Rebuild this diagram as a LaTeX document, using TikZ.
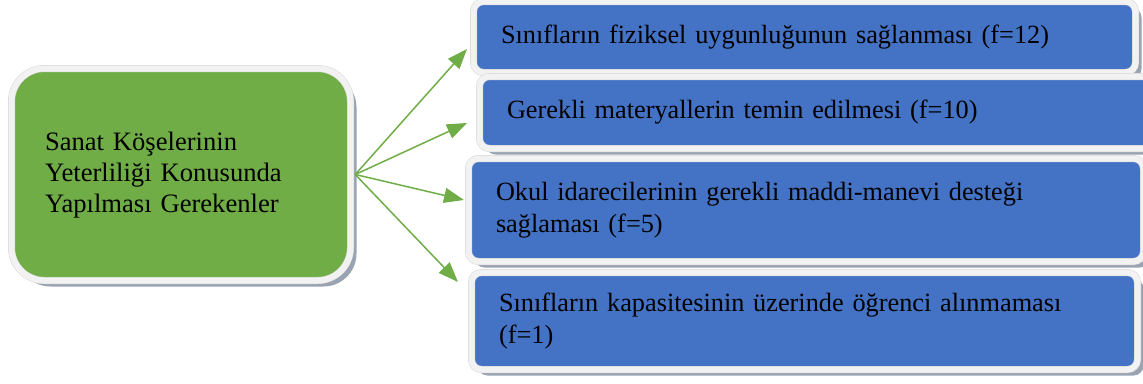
\documentclass[tikz,border=0pt]{standalone}
\usepackage{fontspec}
\setmainfont{Liberation Serif}
\usetikzlibrary{arrows.meta,shadows}
\definecolor{gfill}{HTML}{70AD47}
\definecolor{bfill}{HTML}{4472C4}
\definecolor{rim}{HTML}{F2F2F2}
\definecolor{rimline}{HTML}{D6D6D6}
\definecolor{shade}{HTML}{9AA3B2}
\definecolor{arr}{HTML}{70AD47}
\begin{document}
\begin{tikzpicture}[x=1pt,y=-1pt,
 card/.style={draw=rimline, double=rim, double distance=6pt, line width=0.5pt,
   inner xsep=27.5pt, inner ysep=0pt, align=left,
   font=\fontsize{26.3}{32}\selectfont, text=black,
   drop shadow={shadow xshift=6pt, shadow yshift=-6pt, fill=shade, opacity=1}},
 bluecard/.style={card, fill=bfill, rounded corners=10pt},
 greencard/.style={card, fill=gfill, rounded corners=33pt, inner xsep=33.5pt,
   font=\fontsize{26.6}{31}\selectfont},
 link/.style={draw=arr, line width=1.5pt, -{Triangle[length=20pt,width=15pt]}}
]
\useasboundingbox (0,0) rectangle (1143,383);

\node[greencard, text width=272pt, minimum height=212pt] (g) at (181,174.5)
  {\rule{0pt}{20pt}Sanat Köşelerinin\\Yeterliliği Konusunda\\Yapılması Gerekenler};

\node[bluecard, text width=607pt, minimum height=71pt] (b1) at (804.5,37)
  {Sınıfların fiziksel uygunluğunun sağlanması (f=12)};
\node[bluecard, text width=619pt, minimum height=72pt] (b2) at (816.5,112.5)
  {Gerekli materyallerin temin edilmesi (f=10)};
\node[bluecard, text width=620pt, minimum height=103pt] (b3) at (806,210)
  {Okul idarecilerinin gerekli maddi-manevi desteği\\sağlaması (f=5)};
\node[bluecard, text width=611pt, minimum height=97pt] (b4) at (804.5,321)
  {Sınıfların kapasitesinin üzerinde öğrenci alınmaması\\(f=1)};

\coordinate (src) at ([xshift=4.5pt]g.east);
\coordinate (t1) at (467,49);
\coordinate (t2) at (467,123);
\coordinate (t3) at (464,200);
\coordinate (t4) at (458,282);

\draw[link] (src) -- (t1);
\draw[link] (src) -- (t2);
\draw[link] (src) -- (t3);
\draw[link] (src) -- (t4);
\end{tikzpicture}
\end{document}
